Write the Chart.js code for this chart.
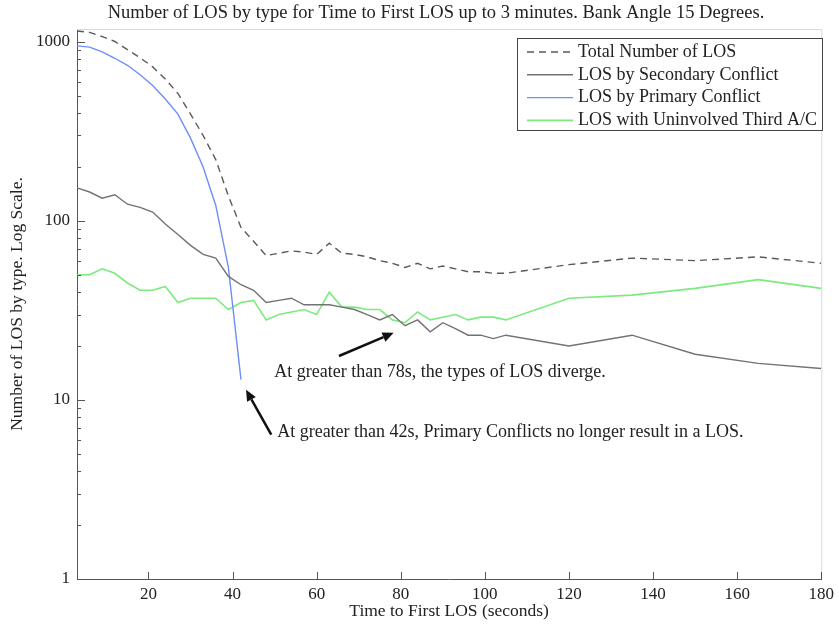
<!DOCTYPE html>
<html>
<head>
<meta charset="utf-8">
<script src="https://cdn.jsdelivr.net/npm/chart.js@4.4.0/dist/chart.umd.min.js"></script>
<style>
  body { margin: 0; background: #fff; }
</style>
</head>
<body>
<canvas id="chart" width="839" height="627"></canvas>
<script>
"use strict";
// values
const timeSec = [3, 6, 9, 12, 15, 18, 21, 24, 27, 30, 33, 36, 39, 42, 45, 48, 51, 54, 57, 60,
    63, 66, 69, 72, 75, 78, 81, 84, 87, 90, 93, 96, 99, 102, 105, 120, 135, 150, 165, 180];
const totalLos = [1150, 1130, 1070, 1005, 905, 815, 725, 620, 515, 395, 300, 220, 138, 92, 77, 64, 66, 68, 67, 65,
    75, 66, 65, 63, 60, 58, 55, 58, 54, 56, 54, 52, 52, 51, 51, 57, 62, 60, 63, 58];
const secondaryLos = [153, 145, 134, 140, 124, 119, 112, 96, 84, 73, 65, 62, 49, 44, 41, 35, 36, 37, 34, 34,
    34, 33, 32, 30, 28, 30, 26, 28, 24, 27, 25, 23, 23, 22, 23, 20, 23, 18, 16, 15];
const primaryLos = [950, 935, 880, 810, 740, 655, 570, 480, 395, 290, 200, 122, 55, 13];
const thirdAcLos = [50, 50, 54, 51, 45, 41, 41, 43, 35, 37, 37, 37, 32, 35, 36, 28, 30, 31, 32, 30,
    40, 33, 33, 32, 32, 28, 27, 31, 28, 29, 30, 28, 29, 29, 28, 37, 38.5, 42, 47, 42];
const xTicks = [20, 40, 60, 80, 100, 120, 140, 160, 180];
const yTicks = [1, 10, 100, 1000];

const FONT = '"Liberation Serif", "Times New Roman", serif';
const TEXT = '#222';

function toPoints(values) {
    return values.map((v, i) => ({ x: timeSec[i], y: v }));
}

const titlePlugin = {
    id: 'plotTitle',
    afterDraw(chart) {
        const ctx = chart.ctx;
        ctx.save();
        ctx.font = '18.5px ' + FONT;
        ctx.fillStyle = TEXT;
        ctx.textAlign = 'center';
        ctx.textBaseline = 'middle';
        ctx.fillText('Number of LOS by type for Time to First LOS up to 3 minutes. Bank Angle 15 Degrees.', 436, 13);
        ctx.restore();
    }
};

// MATLAB-like box with inward ticks
const framePlugin = {
    id: 'frame',
    afterDraw(chart) {
        const ctx = chart.ctx;
        const a = chart.chartArea;
        const xs = chart.scales.x, ys = chart.scales.y;
        ctx.save();
        ctx.strokeStyle = '#d8d8d8';
        ctx.lineWidth = 1;
        ctx.beginPath();
        ctx.moveTo(a.left, a.top + 0.5);
        ctx.lineTo(a.right + 0.5, a.top + 0.5);
        ctx.lineTo(a.right + 0.5, a.bottom);
        ctx.stroke();
        ctx.strokeStyle = '#555';
        ctx.beginPath();
        xTicks.forEach(v => {
            const px = Math.round(xs.getPixelForValue(v)) + 0.5;
            ctx.moveTo(px, a.bottom);
            ctx.lineTo(px, a.bottom - 7);
        });
        for (let d = 1; d <= 1000; d *= 10) {
            for (let m = 1; m < 10; m++) {
                const v = d * m;
                if (v > ys.max) break;
                const py = Math.round(ys.getPixelForValue(v)) + 0.5;
                ctx.moveTo(a.left, py);
                ctx.lineTo(a.left + (m === 1 ? 8 : 4), py);
            }
        }
        ctx.stroke();
        ctx.restore();
    }
};

const legendPlugin = {
    id: 'boxLegend',
    afterDraw(chart) {
        const ctx = chart.ctx;
        const left = 517, top = 38, w = 305, h = 92;
        ctx.save();
        ctx.fillStyle = '#fff';
        ctx.fillRect(left, top, w, h);
        ctx.strokeStyle = '#444';
        ctx.lineWidth = 1;
        ctx.strokeRect(left + 0.5, top + 0.5, w, h);
        ctx.font = '18px ' + FONT;
        ctx.textBaseline = 'middle';
        chart.data.datasets.forEach((ds, i) => {
            const y = top + 14 + i * 22.8;
            ctx.strokeStyle = ds.borderColor;
            ctx.lineWidth = ds.borderWidth;
            ctx.setLineDash(ds.borderDash || []);
            ctx.beginPath();
            ctx.moveTo(left + 10, y);
            ctx.lineTo(left + 56, y);
            ctx.stroke();
            ctx.setLineDash([]);
            ctx.fillStyle = TEXT;
            ctx.fillText(ds.label, left + 61, y);
        });
        ctx.restore();
    }
};

function drawArrow(ctx, x1, y1, x2, y2) {
    const ang = Math.atan2(y2 - y1, x2 - x1);
    const hl = 11, hw = 5;
    const bx = x2 - hl * Math.cos(ang), by = y2 - hl * Math.sin(ang);
    ctx.beginPath();
    ctx.moveTo(x1, y1);
    ctx.lineTo(bx, by);
    ctx.stroke();
    ctx.beginPath();
    ctx.moveTo(x2, y2);
    ctx.lineTo(bx + hw * Math.sin(ang), by - hw * Math.cos(ang));
    ctx.lineTo(bx - hw * Math.sin(ang), by + hw * Math.cos(ang));
    ctx.closePath();
    ctx.fill();
}

const notesPlugin = {
    id: 'notes',
    afterDraw(chart) {
        const ctx = chart.ctx;
        const xs = chart.scales.x, ys = chart.scales.y;
        const P = (x, y) => [xs.getPixelForValue(x), ys.getPixelForValue(y)];
        ctx.save();
        ctx.fillStyle = '#111';
        ctx.strokeStyle = '#111';
        ctx.lineWidth = 2.5;
        let t = P(65.3, 17.6), h = P(78.3, 23.7);
        drawArrow(ctx, t[0], t[1], h[0], h[1]);
        t = P(49.2, 6.4); h = P(43.2, 11.4);
        drawArrow(ctx, t[0], t[1], h[0], h[1]);
        ctx.font = '18px ' + FONT;
        ctx.fillStyle = TEXT;
        ctx.textBaseline = 'middle';
        let p = P(49.9, 14.3);
        ctx.fillText('At greater than 78s, the types of LOS diverge.', p[0], p[1]);
        p = P(50.6, 6.6);
        ctx.fillText('At greater than 42s, Primary Conflicts no longer result in a LOS.', p[0], p[1]);
        ctx.restore();
    }
};

new Chart(document.getElementById('chart'), {
    type: 'line',
    data: {
        datasets: [
            { label: 'Total Number of LOS', data: toPoints(totalLos), borderColor: '#5a5a5a', borderWidth: 1.4, borderDash: [7, 5] },
            { label: 'LOS by Secondary Conflict', data: toPoints(secondaryLos), borderColor: '#727272', borderWidth: 1.4 },
            { label: 'LOS by Primary Conflict', data: toPoints(primaryLos), borderColor: '#6e8ef5', borderWidth: 1.4 },
            { label: 'LOS with Uninvolved Third A/C', data: toPoints(thirdAcLos), borderColor: '#7dea7d', borderWidth: 1.6 }
        ]
    },
    options: {
        responsive: false,
        animation: false,
        devicePixelRatio: 1,
        layout: { padding: { top: 29, right: 15, bottom: 0, left: 0 } },
        elements: { point: { radius: 0 }, line: { tension: 0 } },
        plugins: {
            legend: { display: false },
            title: { display: false },
            tooltip: { enabled: false }
        },
        scales: {
            x: {
                type: 'linear',
                min: 3,
                max: 180,
                afterBuildTicks: scale => { scale.ticks = xTicks.map(v => ({ value: v })); },
                afterFit: scale => { scale.height = 48; },
                grid: { drawOnChartArea: false, drawTicks: false },
                border: { color: '#555' },
                ticks: { padding: 5, color: TEXT, font: { family: FONT, size: 17 }, maxRotation: 0 },
                title: { display: true, text: 'Time to First LOS (seconds)', color: TEXT, font: { family: FONT, size: 17.5 }, padding: { top: 0, bottom: 5 } }
            },
            y: {
                type: 'logarithmic',
                min: 1,
                max: 1180,
                afterBuildTicks: scale => { scale.ticks = yTicks.map(v => ({ value: v })); },
                afterFit: scale => { scale.width = 77; },
                grid: { drawOnChartArea: false, drawTicks: false },
                border: { color: '#555' },
                ticks: { padding: 7, color: TEXT, font: { family: FONT, size: 17 }, callback: v => String(v) },
                title: { display: true, text: 'Number of LOS by type. Log Scale.', color: TEXT, font: { family: FONT, size: 17.5 }, padding: { top: 7, bottom: 0 } }
            }
        }
    },
    plugins: [titlePlugin, framePlugin, legendPlugin, notesPlugin]
});
</script>
</body>
</html>
